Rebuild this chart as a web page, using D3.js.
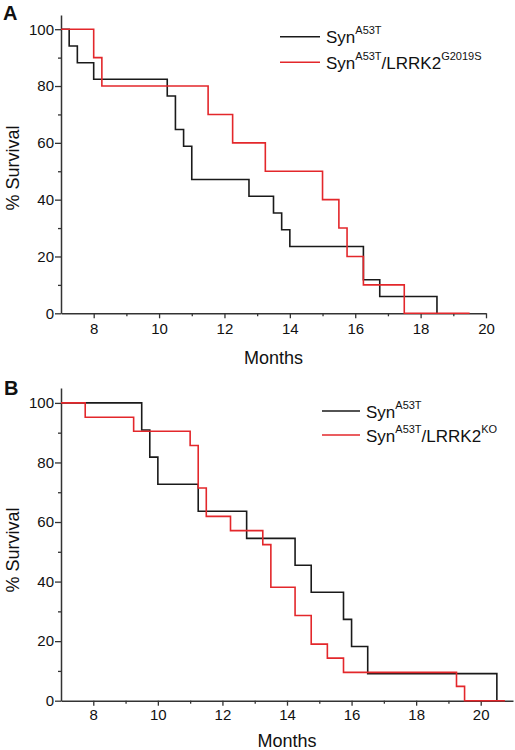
<!DOCTYPE html>
<html>
<head>
<meta charset="utf-8">
<script src="https://cdn.jsdelivr.net/npm/d3@7"></script>
<style>
  html, body { margin: 0; padding: 0; background: #fff; }
  svg { display: block; font-family: "Liberation Sans", Arial, sans-serif; }
</style>
</head>
<body>
<svg id="chart" width="515" height="750"></svg>
<script>
// ---------- data ----------
// Panel A
const aBlackTimes = [7, 7.25, 7.5, 8, 10.25, 10.5, 10.75, 11, 12.75, 13.5, 13.75, 14, 16.25, 16.75, 18.5];
const aBlackSurv  = [100, 94.1, 88.2, 82.4, 76.5, 64.7, 58.8, 47.1, 41.2, 35.3, 29.4, 23.5, 11.8, 5.9, 0];
const aRedTimes   = [7, 8, 8.25, 11.5, 12.25, 13.25, 15, 15.5, 15.75, 16.25, 17.5, 19.5];
const aRedSurv    = [100, 90, 80, 70, 60, 50, 40, 30, 20, 10, 0, 0];
// Panel B
const bBlackTimes = [7, 9.5, 9.75, 10, 11.25, 12.75, 14.25, 14.75, 15.75, 16, 16.5, 20.5];
const bBlackSurv  = [100, 90.9, 81.8, 72.7, 63.6, 54.5, 45.5, 36.4, 27.3, 18.2, 9.1, 0];
const bRedTimes   = [7, 7.75, 9.25, 11, 11.25, 11.5, 12.25, 13.25, 13.5, 14.25, 14.75, 15.25, 15.75, 19.25, 19.5, 20.75];
const bRedSurv    = [100, 95.2, 90.5, 85.7, 71.4, 61.9, 57.1, 52.4, 38.1, 28.6, 19.0, 14.3, 9.5, 4.8, 0, 0];

const xMajor = [8, 10, 12, 14, 16, 18, 20];
const xMinor = [9, 11, 13, 15, 17, 19];
const yMajor = [0, 20, 40, 60, 80, 100];
const yMinor = [10, 30, 50, 70, 90];

const legendA = [
  {base: "Syn", sup1: "A53T", mid: "", sup2: ""},
  {base: "Syn", sup1: "A53T", mid: "/LRRK2", sup2: "G2019S"}
];
const legendB = [
  {base: "Syn", sup1: "A53T", mid: "", sup2: ""},
  {base: "Syn", sup1: "A53T", mid: "/LRRK2", sup2: "KO"}
];

// ---------- drawing ----------
const svg = d3.select("#chart");
const BLACK = "#1a1a1a", RED = "#e3272b", AXIS = "#333";

function panel(cfg) {
  const g = svg.append("g");
  const x = d3.scaleLinear().domain(cfg.xDomain).range(cfg.xRange);
  const y = d3.scaleLinear().domain([0, 105]).range(cfg.yRange);

  // axes
  const xAx = g.append("g").attr("transform", `translate(0,${cfg.yRange[0]})`)
    .call(d3.axisBottom(x).tickValues(xMajor).tickSize(5).tickPadding(cfg.xPad).tickSizeOuter(0));
  g.append("g").attr("transform", `translate(0,${cfg.yRange[0]})`)
    .call(d3.axisBottom(x).tickValues(xMinor).tickSize(3).tickFormat("").tickSizeOuter(0))
    .select(".domain").remove();
  const yAx = g.append("g").attr("transform", `translate(${cfg.xRange[0]},0)`)
    .call(d3.axisLeft(y).tickValues(yMajor).tickSize(6).tickPadding(1).tickSizeOuter(0));
  g.append("g").attr("transform", `translate(${cfg.xRange[0]},0)`)
    .call(d3.axisLeft(y).tickValues(yMinor).tickSize(3).tickFormat("").tickSizeOuter(0))
    .select(".domain").remove();

  g.selectAll(".domain").attr("stroke", AXIS).attr("stroke-width", 1.5);
  g.selectAll(".tick line").attr("stroke", AXIS).attr("stroke-width", 1.3);
  g.selectAll(".tick text").attr("fill", "#111").style("font-size", "15px")
    .style("font-family", '"Liberation Sans", Arial, sans-serif');

  // curves
  const line = d3.line().x(d => x(d[0])).y(d => y(d[1])).curve(d3.curveStepAfter);
  cfg.series.forEach(s => {
    const pts = s.t.map((t, i) => [t, s.v[i]]);
    g.append("path").datum(pts).attr("d", line)
      .attr("fill", "none").attr("stroke", s.color).attr("stroke-width", 1.6);
  });

  // axis titles
  g.append("text").attr("x", (cfg.xRange[0] + cfg.xRange[1]) / 2).attr("y", cfg.monthsY)
    .attr("text-anchor", "middle").style("font-size", "18px").attr("fill", "#111").text("Months");
  g.append("text").attr("transform", `translate(19,${cfg.survY}) rotate(-90)`)
    .attr("text-anchor", "middle").style("font-size", "18px").attr("fill", "#111").text("% Survival");

  // panel letter
  g.append("text").attr("x", cfg.letterX).attr("y", cfg.letterY)
    .style("font-size", "20px").style("font-weight", "bold").attr("fill", "#111").text(cfg.letter);

  // legend
  cfg.legend.forEach((L, i) => {
    const ly = cfg.legY[i];
    g.append("line").attr("x1", cfg.legX1).attr("x2", cfg.legX2).attr("y1", ly).attr("y2", ly)
      .attr("stroke", cfg.series[i].color).attr("stroke-width", 1.6);
    const t = g.append("text").attr("x", cfg.legX2 + 6).attr("y", ly + 6.5)
      .style("font-size", "17px").attr("fill", "#111");
    t.append("tspan").text(L.base);
    t.append("tspan").attr("dy", -9).style("font-size", "11px").text(L.sup1);
    if (L.mid) {
      t.append("tspan").attr("dy", 9).text(L.mid);
      t.append("tspan").attr("dy", -9).style("font-size", "11px").text(L.sup2);
    }
  });
}

panel({
  letter: "A", letterX: 3, letterY: 20,
  xDomain: [7, 20], xRange: [61, 486], yRange: [313.3, 15], xPad: 5,
  monthsY: 363.5, survY: 168,
  series: [
    {t: aBlackTimes, v: aBlackSurv, color: BLACK},
    {t: aRedTimes, v: aRedSurv, color: RED}
  ],
  legend: legendA, legX1: 280, legX2: 320, legY: [36.7, 62.3]
});

panel({
  letter: "B", letterX: 4, letterY: 395,
  xDomain: [7, 21], xRange: [61, 513], yRange: [700.7, 388], xPad: 4,
  monthsY: 747, survY: 550,
  series: [
    {t: bBlackTimes, v: bBlackSurv, color: BLACK},
    {t: bRedTimes, v: bRedSurv, color: RED}
  ],
  legend: legendB, legX1: 322, legX2: 360, legY: [411, 435]
});
</script>
</body>
</html>
